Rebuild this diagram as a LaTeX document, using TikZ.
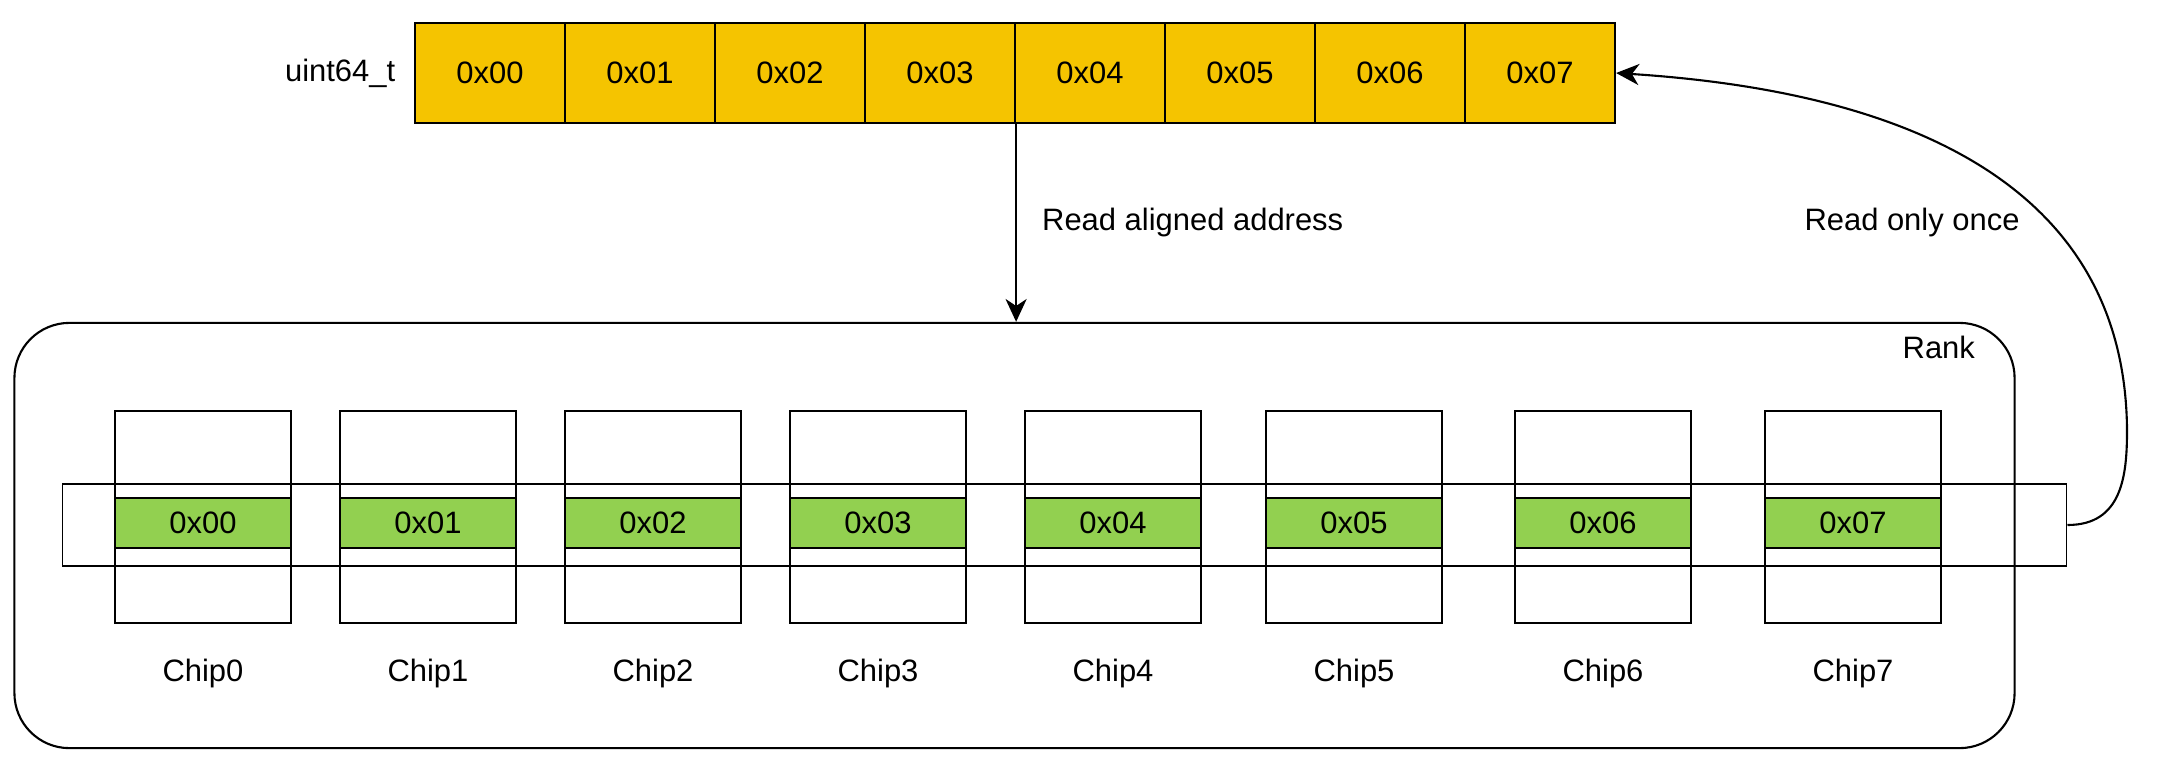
\documentclass[tikz,border=0pt]{standalone}
\usepackage{fontspec}
\setmainfont{Liberation Sans}
\usetikzlibrary{arrows.meta,positioning}

\definecolor{cellyellow}{HTML}{F5C400}
\definecolor{rowgreen}{HTML}{92D050}

\tikzset{
	cell/.style={draw, line width=0.6pt, fill=cellyellow, minimum width=1.5cm, minimum height=1cm, inner sep=0pt},
	chipbox/.style={draw, line width=0.6pt, fill=white, minimum width=1.76cm, minimum height=2.12cm, inner sep=0pt},
	rowcell/.style={draw, line width=0.6pt, fill=rowgreen, minimum width=1.76cm, minimum height=0.5cm, inner sep=0pt},
	txt/.style={inner sep=0pt},
}

\begin{document}
\begin{tikzpicture}[x=0.01cm,y=-0.01cm,>={Stealth[length=6.5pt,width=6pt,inset=2pt]},font=\fontsize{8.8}{10.5}\selectfont]
\useasboundingbox (0,0) rectangle (2170,760);

% The 64-bit word, one byte per cell
\foreach \i in {0,...,7}
	\node[cell] (c\i) at ({490+150*\i},73) {0x0\i};
\node[txt, left=0.18cm of c0] (word) {uint64\_t};

% The rank around the chips
\node[draw, line width=0.6pt, rounded corners=0.55cm, minimum width=19.99cm, minimum height=4.25cm] (rank) at (1014.5,535.5) {};
\node[txt, anchor=north east] (ranklbl) at ([xshift=-0.4cm,yshift=-0.14cm]rank.north east) {Rank};

% Chips, each holding one byte
\foreach \i/\x in {0/115,1/340,2/565,3/790,4/1025,5/1266,6/1515,7/1765} {
	\node[chipbox] (chip\i) at ({\x+88},517) {};
	\node[txt] (name\i) at ([yshift=-0.49cm]chip\i.south) {Chip\i};
}

% The row read across all chips
\node[draw, line width=0.5pt, minimum width=20.03cm, minimum height=0.82cm, inner sep=0pt] (bus) at (1064.5,525) {};
\foreach \i/\x in {0/115,1/340,2/565,3/790,4/1025,5/1266,6/1515,7/1765}
	\node[rowcell] (row\i) at ({\x+88},523) {0x0\i};

% Read request and the answer
\draw[->, line width=0.6pt] (c3.south east) -- (c3.south east |- rank.north)
	node[txt, midway, right=0.25cm] (readlbl) {Read aligned address};

\coordinate (bend) at (2127,430);
\draw[->, line width=0.6pt] (bus.east) .. controls +(55,0) and +(0,45) .. (bend)
	.. controls (2125,170) and (1880,90) .. (c7.east);
\node[txt] (oncelbl) at (1912,222) {Read only once};
\end{tikzpicture}
\end{document}
